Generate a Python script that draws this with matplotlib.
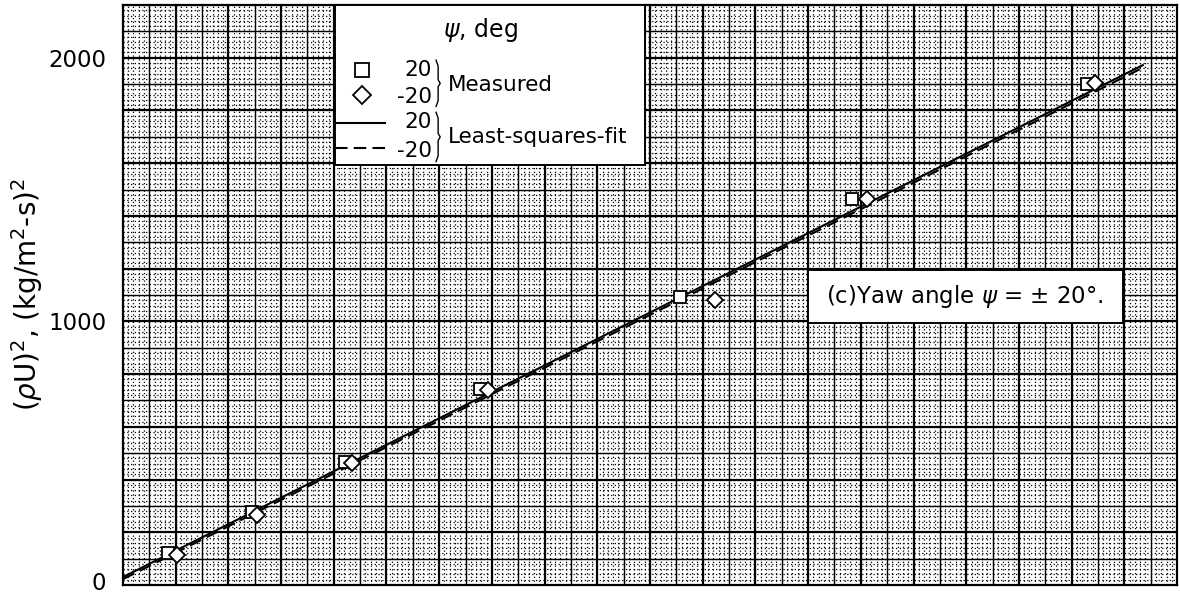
import matplotlib
matplotlib.use("Agg")
import matplotlib.pyplot as plt
import matplotlib.transforms as mtransforms
from matplotlib.ticker import MultipleLocator
from matplotlib.patches import Rectangle

plt.rcParams['font.family'] = ['DejaVu Sans']
plt.rcParams['mathtext.fontset'] = 'dejavusans'

# =============================================================================
# Data (x in grid units)
# =============================================================================
x_pos20 = [1.71, 4.90, 8.43, 13.55, 21.14, 27.67, 36.58]
y_pos20 = [121, 277, 466, 742, 1091, 1466, 1902]

x_neg20 = [2.05, 5.09, 8.69, 13.85, 22.47, 28.24, 36.89]
y_neg20 = [114, 265, 462, 739, 1080, 1466, 1905]

# least-squares-fit lines, end points
fit_x = [0.0, 38.7]
fit_y_pos20 = [30, 1972]
fit_y_neg20 = [22, 1962]

y_ticks = [0, 1000, 2000]
y_ticklabels = ['0', '1000', '2000']

# =============================================================================
# Figure
# =============================================================================
fig = plt.figure(figsize=(11.8, 5.97), dpi=100)
ax = fig.add_axes([0.1042, 0.0201, 0.8933, 0.9715])
ax.set_xlim(0, 40)
ax.set_ylim(0, 2200)

# graph paper: heavy every 2 units, medium every 1, dotted every 0.2
for xv in range(1, 40):
    ax.axvline(xv, color='black', lw=1.6 if xv % 2 == 0 else 1.0, zorder=1)
for yv in range(100, 2200, 100):
    ax.axhline(yv, color='black', lw=1.6 if yv % 200 == 0 else 1.0, zorder=1)
ax.xaxis.set_minor_locator(MultipleLocator(0.2))
ax.yaxis.set_minor_locator(MultipleLocator(20))
ax.grid(which='minor', color='black', linestyle=(0, (1, 2)), lw=0.9, zorder=0)

ax.set_xticks([])
ax.set_yticks(y_ticks)
ax.set_yticklabels(y_ticklabels, fontsize=16.5)
ax.tick_params(axis='y', length=0, pad=12)
ax.tick_params(axis='x', which='both', length=0)
ax.tick_params(axis='y', which='minor', length=0)
for sp in ax.spines.values():
    sp.set_linewidth(1.6)

# nudge the "0" label up so it stays inside the figure
lab0 = ax.get_yticklabels()[0]
lab0.set_transform(lab0.get_transform() +
                   mtransforms.ScaledTranslation(0, 4 / 100, fig.dpi_scale_trans))

ax.set_ylabel(r'$(\rho\mathrm{U})^2$, (kg/m$^2$-s)$^2$', fontsize=20, labelpad=2)

# fit lines and measured points
ax.plot(fit_x, fit_y_pos20, color='black', lw=1.5, zorder=3)
ax.plot(fit_x, fit_y_neg20, color='black', lw=1.5, ls=(0, (6, 3)), zorder=3)
ax.plot(x_pos20, y_pos20, 's', ms=9, mfc='white', mec='black', mew=1.3, zorder=4)
ax.plot(x_neg20, y_neg20, 'D', ms=8, mfc='white', mec='black', mew=1.3, zorder=5)

# =============================================================================
# Legend (hand built, like the original)
# =============================================================================
T = ax.transAxes
fs = 15.5
ax.add_patch(Rectangle((0.201, 0.724), 0.294, 0.276, transform=T, facecolor='white',
                       edgecolor='black', lw=1.4, zorder=6))
ax.text(0.339, 0.957, r'$\psi$, deg', transform=T, fontsize=17, ha='center', va='center', zorder=7)
ax.plot([0.227], [0.888], 's', ms=10, mfc='white', mec='black', mew=1.3, transform=T, zorder=7)
ax.plot([0.227], [0.845], 'D', ms=9, mfc='white', mec='black', mew=1.3, transform=T, zorder=7)
ax.text(0.293, 0.888, '20', transform=T, fontsize=fs, ha='right', va='center', zorder=7)
ax.text(0.293, 0.841, '-20', transform=T, fontsize=fs, ha='right', va='center', zorder=7)
ax.plot([0.201, 0.249], [0.797, 0.797], color='black', lw=1.5, transform=T, zorder=7)
ax.plot([0.201, 0.249], [0.753, 0.753], color='black', lw=1.5, ls=(0, (6, 3)), transform=T, zorder=7)
ax.text(0.293, 0.799, '20', transform=T, fontsize=fs, ha='right', va='center', zorder=7)
ax.text(0.293, 0.748, '-20', transform=T, fontsize=fs, ha='right', va='center', zorder=7)


def brace(x0, ytop, ybot):
    ym = (ytop + ybot) / 2
    d = 0.002
    xs = [x0, x0 + d, x0 + d, x0 + 2 * d, x0 + d, x0 + d, x0]
    ys = [ytop, ytop - 0.01, ym + 0.006, ym, ym - 0.006, ybot + 0.01, ybot]
    ax.plot(xs, ys, color='black', lw=1.0, transform=T, zorder=7)


brace(0.297, 0.905, 0.825)
brace(0.297, 0.815, 0.730)
ax.text(0.308, 0.862, 'Measured', transform=T, fontsize=fs, ha='left', va='center', zorder=7)
ax.text(0.308, 0.772, 'Least-squares-fit', transform=T, fontsize=fs, ha='left', va='center', zorder=7)

# annotation box
ax.add_patch(Rectangle((0.650, 0.452), 0.299, 0.091, transform=T, facecolor='white',
                       edgecolor='black', lw=1.4, zorder=6))
ax.text(0.799, 0.497, r'(c)Yaw angle $\psi$ = $\pm$ 20°.', transform=T, fontsize=16.5,
        ha='center', va='center', zorder=7)

fig.savefig('out.png', dpi=100)
